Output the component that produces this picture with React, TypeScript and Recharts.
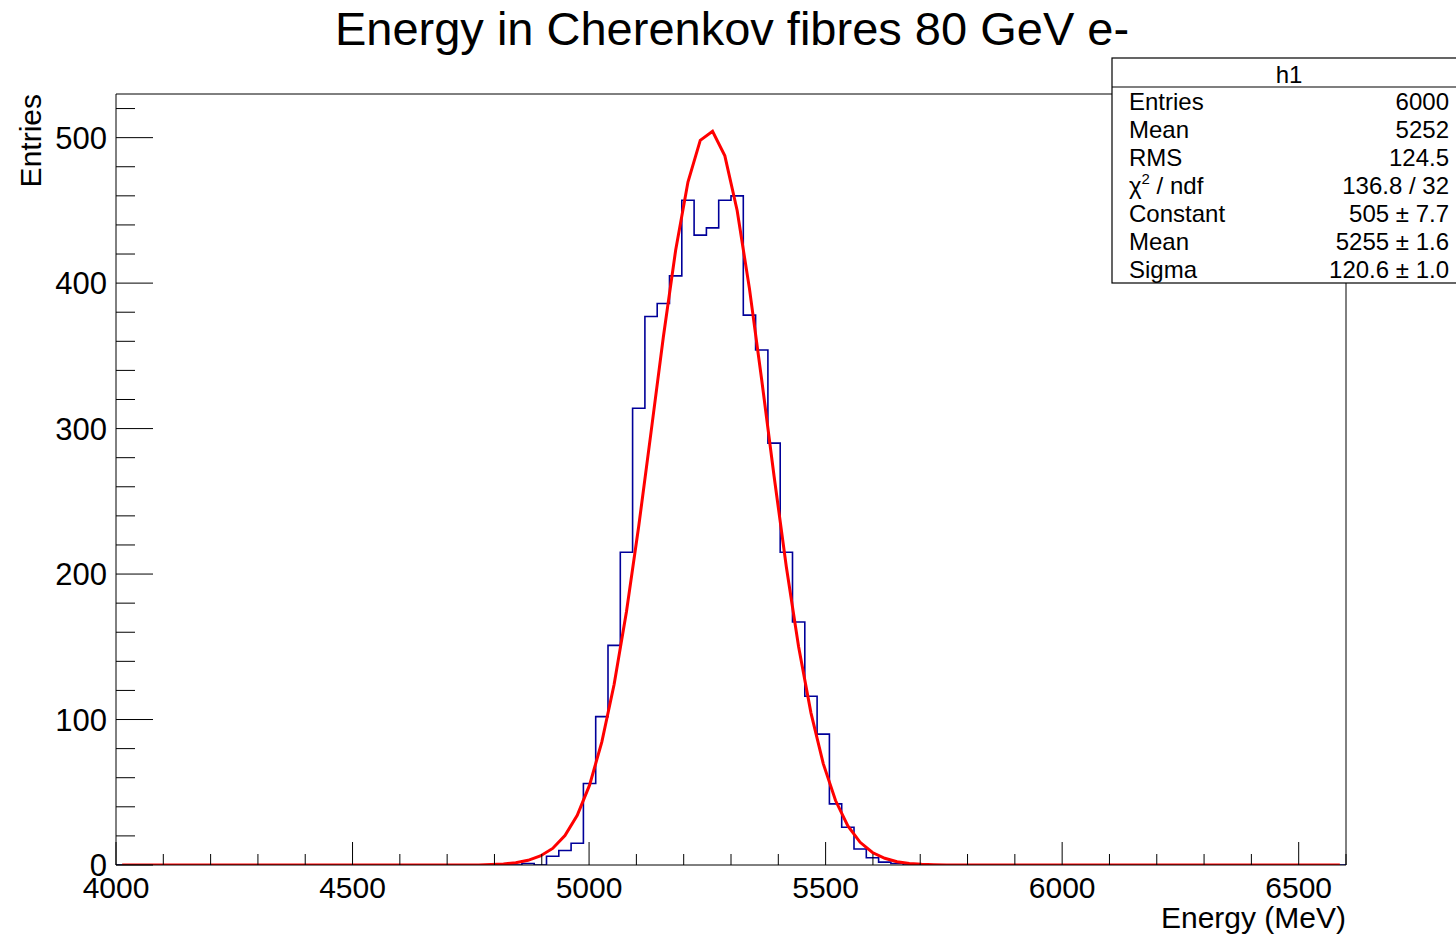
import React from 'react';
import { ComposedChart, Line, XAxis, YAxis, ReferenceLine } from 'recharts';

// histogram h1: 100 bins of 26 MeV from 4000 to 6600
const BIN_START = 4000;
const BIN_WIDTH = 26;

const binCounts = [
  0, 0, 0, 0, 0, 0, 0, 0, 0, 0,
  0, 0, 0, 0, 0, 0, 0, 0, 0, 0,
  0, 0, 0, 0, 0, 0, 0, 0, 0, 0,
  0, 0, 0, 1, 0, 6, 10, 15, 56, 102,
  151, 215, 314, 377, 386, 405, 457, 433, 438, 457,
  460, 378, 354, 290, 215, 167, 116, 90, 42, 26,
  11, 5, 2, 1, 0, 0, 0, 0, 0, 0,
  0, 0, 0, 0, 0, 0, 0, 0, 0, 0,
  0, 0, 0, 0, 0, 0, 0, 0, 0, 0,
  0, 0, 0, 0, 0, 0, 0, 0, 0, 0,
];

// gaussian fit curve, read at the bin centres
const fitValues = [
  0, 0, 0, 0, 0, 0, 0, 0, 0, 0,
  0, 0, 0, 0, 0, 0, 0, 0, 0, 0,
  0, 0, 0, 0, 0, 0, 0, 0, 0, 0,
  0.3, 0.7, 1.6, 3.2, 6.2, 11.4, 20.2, 34.1, 54.9, 84.6,
  124.2, 174.1, 233.0, 297.6, 363.0, 422.6, 469.5, 498.1, 504.4, 487.5,
  449.9, 396.2, 333.2, 267.4, 204.9, 149.9, 104.6, 69.7, 44.3, 26.9,
  15.6, 8.6, 4.6, 2.3, 1.1, 0.5, 0.2, 0, 0, 0,
  0, 0, 0, 0, 0, 0, 0, 0, 0, 0,
  0, 0, 0, 0, 0, 0, 0, 0, 0, 0,
  0, 0, 0, 0, 0, 0, 0, 0, 0, 0,
];

const xTicks = [
  4000, 4100, 4200, 4300, 4400, 4500, 4600, 4700, 4800, 4900,
  5000, 5100, 5200, 5300, 5400, 5500, 5600, 5700, 5800, 5900,
  6000, 6100, 6200, 6300, 6400, 6500, 6600,
];
const yTicks = [
  0, 20, 40, 60, 80, 100, 120, 140, 160, 180, 200, 220, 240, 260,
  280, 300, 320, 340, 360, 380, 400, 420, 440, 460, 480, 500, 520,
];

const statsRows = [
  ['Entries', '6000'],
  ['Mean', '5252'],
  ['RMS', '124.5'],
  ['chi2', '136.8 / 32'],
  ['Constant', '505 \u00b1 7.7'],
  ['Mean', '5255 \u00b1 1.6'],
  ['Sigma', '120.6 \u00b1 1.0'],
];

const histData = binCounts
  .map((c, i) => ({ x: BIN_START + i * BIN_WIDTH, count: c }))
  .concat([{ x: BIN_START + binCounts.length * BIN_WIDTH, count: binCounts[binCounts.length - 1] }]);

const fitData = fitValues.map((v, i) => ({ x: BIN_START + (i + 0.5) * BIN_WIDTH, fit: v }));

const FONT = '"Liberation Sans", Arial, Helvetica, sans-serif';

const XTick = (props: any) => {
  const { x, y, payload } = props;
  const major = payload.value % 500 === 0;
  return (
    <g>
      <line x1={x} x2={x} y1={y} y2={y - (major ? 23 : 11)} stroke="#000" strokeWidth={1} />
      {major && payload.value <= 6500 && (
        <text x={x} y={y + 33} textAnchor="middle" fontSize={30} fontFamily={FONT} fill="#000">
          {payload.value}
        </text>
      )}
    </g>
  );
};

const YTick = (props: any) => {
  const { x, y, payload } = props;
  const major = payload.value % 100 === 0;
  return (
    <g>
      <line x1={x} x2={x + (major ? 37 : 19)} y1={y} y2={y} stroke="#000" strokeWidth={1} />
      {major && (
        <text x={x - 9} y={y + 11} textAnchor="end" fontSize={31} fontFamily={FONT} fill="#000">
          {payload.value}
        </text>
      )}
    </g>
  );
};

export default function App() {
  return (
    <div style={{ position: 'absolute', left: 0, top: 0, width: 1456, height: 936, background: '#fff' }}>
      <ComposedChart
        width={1456}
        height={936}
        margin={{ top: 94, right: 110, bottom: 31, left: 56 }}
      >
        <XAxis
          dataKey="x"
          type="number"
          domain={[4000, 6600]}
          ticks={xTicks}
          interval={0}
          height={40}
          tickSize={0}
          tickMargin={0}
          tick={(p: any) => <XTick {...p} />}
          axisLine={{ stroke: '#000', strokeWidth: 1 }}
          allowDataOverflow
        />
        <YAxis
          type="number"
          domain={[0, 530]}
          ticks={yTicks}
          interval={0}
          width={60}
          tickSize={0}
          tickMargin={0}
          tick={(p: any) => <YTick {...p} />}
          axisLine={{ stroke: '#000', strokeWidth: 1 }}
          allowDataOverflow
        />
        <ReferenceLine y={530} stroke="#000" strokeWidth={1} />
        <ReferenceLine x={6600} stroke="#000" strokeWidth={1} />
        <Line
          data={histData}
          dataKey="count"
          type="stepAfter"
          stroke="#000099"
          strokeWidth={1.6}
          dot={false}
          activeDot={false}
          isAnimationActive={false}
        />
        <Line
          data={fitData}
          dataKey="fit"
          type="linear"
          stroke="#ff0000"
          strokeWidth={3}
          dot={false}
          activeDot={false}
          isAnimationActive={false}
        />
      </ComposedChart>
      <svg
        width={1456}
        height={936}
        style={{ position: 'absolute', left: 0, top: 0, pointerEvents: 'none' }}
        fontFamily={FONT}
      >
        <text x={732} y={45} textAnchor="middle" fontSize={47} fill="#000">
          Energy in Cherenkov fibres 80 GeV e-
        </text>
        <text
          x={41}
          y={94}
          textAnchor="end"
          fontSize={30}
          fill="#000"
          transform="rotate(-90 41 94)"
        >
          Entries
        </text>
        <text x={1346} y={928} textAnchor="end" fontSize={30} fill="#000">
          Energy (MeV)
        </text>
        <rect x={1112} y={58} width={360} height={225} fill="#fff" stroke="#000" strokeWidth={1.2} />
        <line x1={1112} x2={1456} y1={87} y2={87} stroke="#000" strokeWidth={1.2} />
        <text x={1289} y={83} textAnchor="middle" fontSize={24} fill="#000">
          h1
        </text>
        {statsRows.map((r, i) => (
          <g key={i}>
            <text x={1129} y={110 + i * 28} fontSize={24} fill="#000">
              {r[0] === 'chi2' ? (
                <>
                  <tspan>{'\u03c7'}</tspan>
                  <tspan fontSize={15} dy={-10}>2</tspan>
                  <tspan dy={10}>{' / ndf'}</tspan>
                </>
              ) : (
                r[0]
              )}
            </text>
            <text x={1449} y={110 + i * 28} textAnchor="end" fontSize={24} fill="#000">
              {r[1]}
            </text>
          </g>
        ))}
      </svg>
    </div>
  );
}
